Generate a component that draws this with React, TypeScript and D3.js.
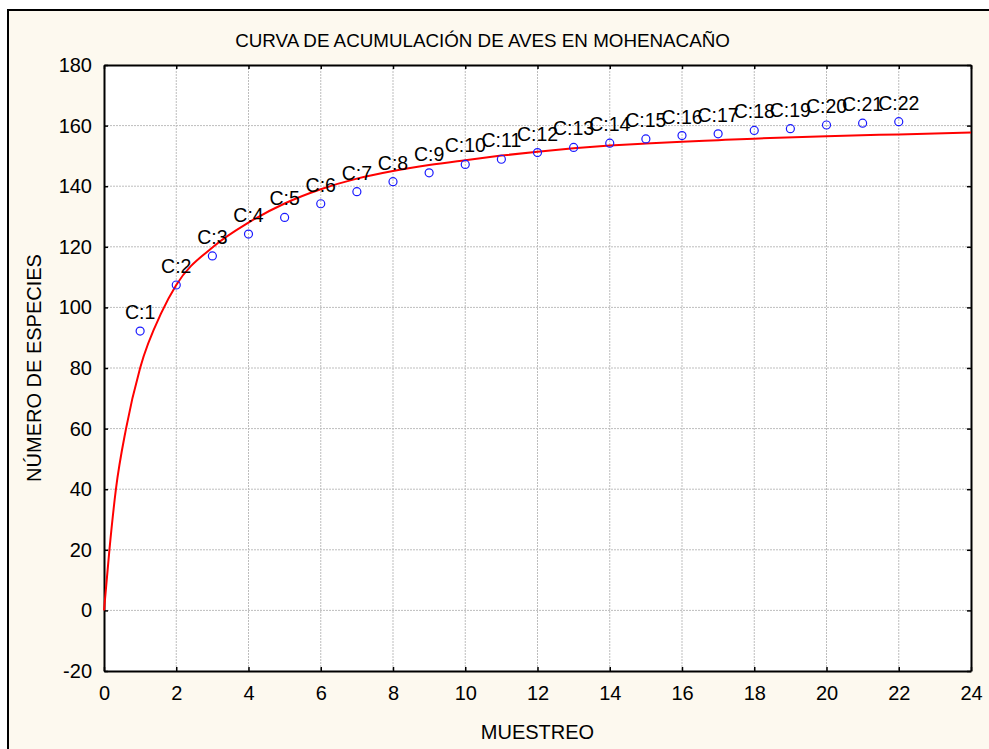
import React, { useEffect, useRef } from 'react'
import * as d3 from 'd3'

// muestreos (x) y número de especies acumuladas (y)
const muestreo = [1, 2, 3, 4, 5, 6, 7, 8, 9, 10, 11, 12, 13, 14, 15, 16, 17, 18, 19, 20, 21, 22]
const especies = [92.2, 107.4, 117.0, 124.2, 129.7, 134.2, 138.2, 141.5, 144.4, 147.2, 148.9, 151.1, 152.8, 154.2, 155.6, 156.7, 157.3, 158.4, 159.0, 160.2, 160.8, 161.3]
const etiquetas = ['C:1', 'C:2', 'C:3', 'C:4', 'C:5', 'C:6', 'C:7', 'C:8', 'C:9', 'C:10', 'C:11', 'C:12', 'C:13', 'C:14', 'C:15', 'C:16', 'C:17', 'C:18', 'C:19', 'C:20', 'C:21', 'C:22']

// curva ajustada
const curvaX = [0, 0.15, 0.33, 0.61, 1, 1.6, 2, 3, 4, 5, 6, 7, 8, 9, 10, 11, 12, 13, 14, 15, 16, 17, 18, 20, 22, 24]
const curvaY = [0, 20, 40, 60, 80, 98.5, 107.4, 119.8, 128, 134.3, 139, 142.5, 145.0, 147.0, 148.6, 150.1, 151.4, 152.5, 153.4, 154.1, 154.7, 155.2, 155.7, 156.5, 157.1, 157.7]

const xTicks = [0, 2, 4, 6, 8, 10, 12, 14, 16, 18, 20, 22, 24]
const yTicks = [-20, 0, 20, 40, 60, 80, 100, 120, 140, 160, 180]

const titulo = 'CURVA DE ACUMULACIÓN DE AVES EN MOHENACAÑO'
const tituloX = 'MUESTREO'
const tituloY = 'NÚMERO DE ESPECIES'

const W = 989
const H = 749
const m = { left: 104, top: 65, right: 971, bottom: 671 }
const FONT = 'Arial, "Liberation Sans", sans-serif'

const App = () => {
  const svgRef = useRef(null)

  useEffect(() => {
    const svg = d3.select(svgRef.current)
    svg.selectAll('*').remove()

    const x = d3.scaleLinear().domain([0, 24]).range([m.left, m.right])
    const y = d3.scaleLinear().domain([-20, 180]).range([m.bottom, m.top])

    // fondo y marco exterior
    svg.append('rect').attr('width', W).attr('height', H).attr('fill', '#fff')
    svg.append('rect')
      .attr('x', 8).attr('y', 10).attr('width', W + 10).attr('height', H + 10)
      .attr('fill', '#fdf9ef').attr('stroke', '#000').attr('stroke-width', 2)

    // area de graficacion
    svg.append('rect')
      .attr('x', m.left).attr('y', m.top)
      .attr('width', m.right - m.left).attr('height', m.bottom - m.top)
      .attr('fill', '#fff')

    // rejilla
    const grid = svg.append('g').attr('stroke', '#bdbdbd').attr('stroke-dasharray', '2,1').attr('stroke-width', 1)
    grid.selectAll('.gx').data(xTicks.slice(1, -1)).join('line')
      .attr('class', 'gx')
      .attr('x1', d => x(d)).attr('x2', d => x(d))
      .attr('y1', m.top).attr('y2', m.bottom)
    grid.selectAll('.gy').data(yTicks.slice(1, -1)).join('line')
      .attr('class', 'gy')
      .attr('x1', m.left).attr('x2', m.right)
      .attr('y1', d => y(d)).attr('y2', d => y(d))

    // ejes
    const fmt = (d: number) => String(d)
    const axes = svg.append('g').attr('font-family', FONT)
    const bottom = axes.append('g').attr('transform', `translate(0,${m.bottom})`)
      .call(d3.axisBottom(x).tickValues(xTicks).tickFormat(fmt).tickSizeInner(-4).tickSizeOuter(0).tickPadding(15))
    const top = axes.append('g').attr('transform', `translate(0,${m.top})`)
      .call(d3.axisTop(x).tickValues(xTicks).tickSizeInner(-4).tickSizeOuter(0).tickFormat(() => ''))
    const left = axes.append('g').attr('transform', `translate(${m.left},0)`)
      .call(d3.axisLeft(y).tickValues(yTicks).tickFormat(fmt).tickSizeInner(-4).tickSizeOuter(0).tickPadding(12))
    const right = axes.append('g').attr('transform', `translate(${m.right},0)`)
      .call(d3.axisRight(y).tickValues(yTicks).tickSizeInner(-4).tickSizeOuter(0).tickFormat(() => ''))
    ;[bottom, top, left, right].forEach(g => {
      g.select('.domain').attr('stroke', '#000').attr('stroke-width', 2)
      g.selectAll('.tick line').attr('stroke', '#000').attr('stroke-width', 1.5)
      g.selectAll('.tick text').attr('font-size', 20).attr('fill', '#000')
    })

    // curva
    const line = d3.line<number>()
      .x((d, i) => x(curvaX[i]))
      .y(d => y(d))
      .curve(d3.curveMonotoneX)
    svg.append('path')
      .attr('d', line(curvaY))
      .attr('fill', 'none').attr('stroke', '#ff0000').attr('stroke-width', 2)

    // puntos observados
    svg.selectAll('.pt').data(especies).join('circle')
      .attr('class', 'pt')
      .attr('cx', (d, i) => x(muestreo[i]))
      .attr('cy', d => y(d))
      .attr('r', 4)
      .attr('fill', 'none').attr('stroke', '#1a1aff').attr('stroke-width', 1.2)

    svg.selectAll('.lbl').data(especies).join('text')
      .attr('class', 'lbl')
      .attr('x', (d, i) => x(muestreo[i]))
      .attr('y', d => y(d) - 12)
      .attr('text-anchor', 'middle')
      .attr('font-family', FONT).attr('font-size', 19.5).attr('fill', '#000')
      .text((d, i) => etiquetas[i])

    // titulos
    svg.append('text').attr('x', 482.5).attr('y', 47)
      .attr('text-anchor', 'middle').attr('font-family', FONT).attr('font-size', 18.8)
      .text(titulo)
    svg.append('text').attr('x', (m.left + m.right) / 2).attr('y', 739)
      .attr('text-anchor', 'middle').attr('font-family', FONT).attr('font-size', 20)
      .text(tituloX)
    svg.append('text')
      .attr('transform', `translate(41,${(m.top + m.bottom) / 2}) rotate(-90)`)
      .attr('text-anchor', 'middle').attr('font-family', FONT).attr('font-size', 20)
      .text(tituloY)
  }, [])

  return (
    <svg ref={svgRef} width={W} height={H} style={{ position: 'absolute', left: 0, top: 0 }} />
  )
}

export default App
